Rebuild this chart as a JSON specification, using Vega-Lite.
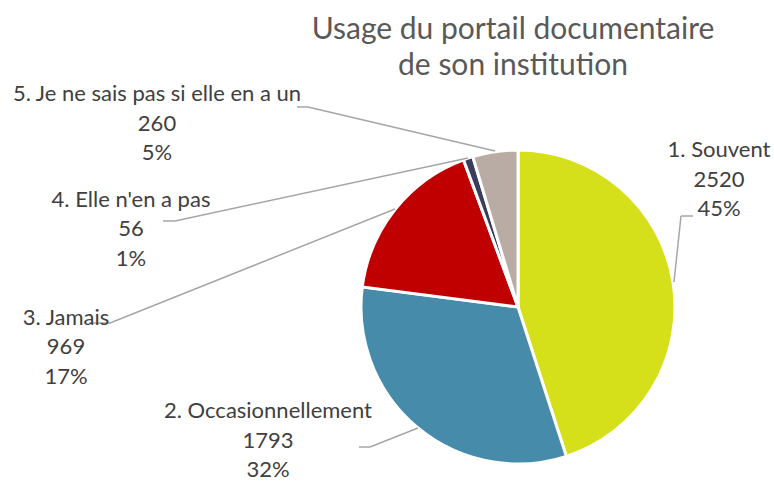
{
  "$schema": "https://vega.github.io/schema/vega-lite/v6.json",
  "autosize": {"type": "none"},
  "width": 512,
  "height": 348,
  "padding": {"left": 262, "top": 133, "right": 0, "bottom": 0},
  "background": "white",
  "config": {"view": {"stroke": null}, "font": "Lato"},
  "title": {
    "text": ["Usage du portail documentaire", "de son institution"],
    "font": "Lato",
    "fontSize": 30,
    "fontWeight": "normal",
    "color": "#595959",
    "lineHeight": 36,
    "anchor": "middle",
    "frame": "group",
    "dx": -5,
    "offset": 2
  },
  "data": {
    "values": [
      {"category": "1. Souvent", "value": 2520, "pct": 0.45},
      {"category": "2. Occasionnellement", "value": 1793, "pct": 0.32},
      {"category": "3. Jamais", "value": 969, "pct": 0.17},
      {"category": "4. Elle n'en a pas", "value": 56, "pct": 0.01},
      {"category": "5. Je ne sais pas si elle en a un", "value": 260, "pct": 0.05}
    ]
  },
  "layer": [
    {
      "mark": {"type": "arc", "outerRadius": 157, "stroke": "white", "strokeWidth": 3},
      "encoding": {
        "theta": {"field": "value", "type": "quantitative", "stack": true},
        "order": {"field": "category", "type": "nominal", "sort": "ascending"},
        "color": {
          "field": "category",
          "type": "nominal",
          "legend": null,
          "scale": {
            "domain": ["1. Souvent", "2. Occasionnellement", "3. Jamais", "4. Elle n'en a pas", "5. Je ne sais pas si elle en a un"],
            "range": ["#D5E01B", "#468BAA", "#C00000", "#3B3D5C", "#B8ACA5"]
          }
        }
      }
    },
    {
      "mark": {"type": "rule", "color": "#A6A6A6", "strokeWidth": 1.5},
      "encoding": {
        "x": {"field": "value", "type": "quantitative", "axis": null,
              "scale": {"domain": [0.01, 0.05, 0.17, 0.32, 0.45, 56, 260, 969, 1793, 2520],
                        "range": [206, 233, 133, 156, 412, -87, 46, -152, 108, 419], "nice": false, "zero": false}},
        "x2": {"field": "pct"},
        "y": {"field": "value", "type": "quantitative", "axis": null,
              "scale": {"domain": [0.01, 0.05, 0.17, 0.32, 0.45, 56, 260, 969, 1793, 2520],
                        "range": [25, 18, 76, 295, 149, 88, -26, 190, 314, 83], "nice": false, "zero": false}},
        "y2": {"field": "pct"}
      }
    },
    {
      "mark": {"type": "rule", "color": "#A6A6A6", "strokeWidth": 1.5},
      "encoding": {
        "x": {"field": "value", "type": "quantitative", "axis": null,
              "scale": {"domain": [0.01, 0.05, 0.17, 0.32, 0.45, 56, 260, 969, 1793, 2520],
                        "range": [-99, 35, -173, 97, 431, -87, 46, -152, 108, 419], "nice": false, "zero": false}},
        "x2": {"field": "pct"},
        "y": {"field": "value", "type": "quantitative", "axis": null,
              "scale": {"domain": [56, 260, 969, 1793, 2520],
                        "range": [88, -26, 190, 314, 83], "nice": false, "zero": false}}
      }
    },
    {
      "mark": {"type": "text", "font": "Lato", "fontSize": 22, "color": "#404040", "align": "center", "baseline": "alphabetic", "dy": -29.5},
      "encoding": {
        "x": {"field": "value", "type": "quantitative", "axis": null,
              "scale": {"domain": [56, 260, 969, 1793, 2520], "range": [-131, -105, -196, 6, 457], "nice": false, "zero": false}},
        "y": {"field": "value", "type": "quantitative", "axis": null,
              "scale": {"domain": [56, 260, 969, 1793, 2520], "range": [103, -2.5, 221, 314.5, 53.7], "nice": false, "zero": false}},
        "text": {"field": "category", "type": "nominal"}
      }
    },
    {
      "mark": {"type": "text", "font": "Lato", "fontSize": 22, "color": "#404040", "align": "center", "baseline": "alphabetic"},
      "encoding": {
        "x": {"field": "value", "type": "quantitative", "axis": null,
              "scale": {"domain": [56, 260, 969, 1793, 2520], "range": [-131, -105, -196, 6, 457], "nice": false, "zero": false}},
        "y": {"field": "value", "type": "quantitative", "axis": null,
              "scale": {"domain": [56, 260, 969, 1793, 2520], "range": [103, -2.5, 221, 314.5, 53.7], "nice": false, "zero": false}},
        "text": {"field": "value", "type": "quantitative", "format": "d"}
      }
    },
    {
      "mark": {"type": "text", "font": "Lato", "fontSize": 22, "color": "#404040", "align": "center", "baseline": "alphabetic", "dy": 29.5},
      "encoding": {
        "x": {"field": "value", "type": "quantitative", "axis": null,
              "scale": {"domain": [56, 260, 969, 1793, 2520], "range": [-131, -105, -196, 6, 457], "nice": false, "zero": false}},
        "y": {"field": "value", "type": "quantitative", "axis": null,
              "scale": {"domain": [56, 260, 969, 1793, 2520], "range": [103, -2.5, 221, 314.5, 53.7], "nice": false, "zero": false}},
        "text": {"field": "pct", "type": "quantitative", "format": ".0%"}
      }
    }
  ],
  "resolve": {"scale": {"x": "independent", "y": "independent"}}
}
